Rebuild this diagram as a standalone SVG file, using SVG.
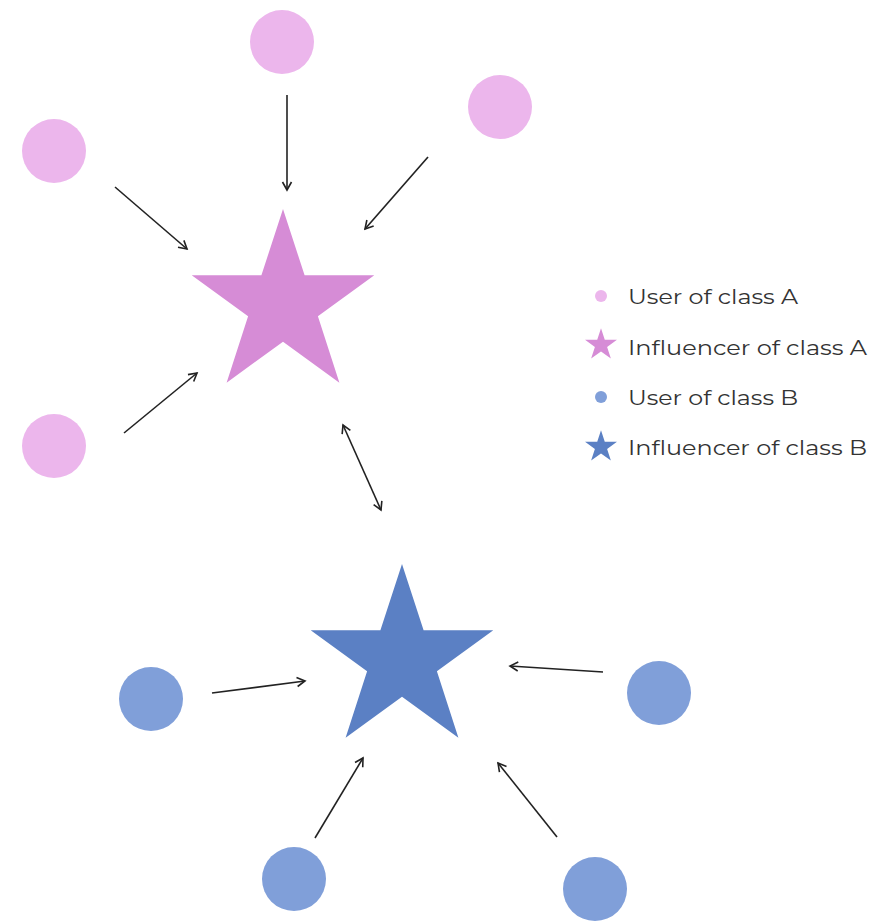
<svg xmlns="http://www.w3.org/2000/svg" xmlns:xlink="http://www.w3.org/1999/xlink" width="872" height="922" viewBox="0 0 872 922">
<style>
.ua{fill:#ecb6ec}
.ia{fill:#d68cd6}
.ub{fill:#809fd9}
.ib{fill:#5b80c4}
.c line{stroke:#222;stroke-width:1.6;fill:none}
.arr{marker-end:url(#ah)}
.lg{font-family:"Montserrat","Lato","Liberation Sans",sans-serif;font-size:20px;fill:#333}
</style>
<defs>
<marker id="ah" viewBox="0 0 12 12" refX="10" refY="6" markerWidth="12" markerHeight="12" markerUnits="userSpaceOnUse" orient="auto-start-reverse">
<polyline points="2,1.5 10,6 2,10.5" fill="none" stroke="#222" stroke-width="1.6"/>
</marker>
<path id="star" d="M0,-96 L21.6,-29.7 L91.3,-29.7 L34.9,11.3 L56.4,77.7 L0,36.7 L-56.4,77.7 L-34.9,11.3 L-91.3,-29.7 L-21.6,-29.7 Z"/>
</defs>
<rect width="872" height="922" fill="#fff"/>
<g id="userA1"><circle class="ua" cx="282" cy="42" r="32"/></g>
<g id="userA2"><circle class="ua" cx="500" cy="107" r="32"/></g>
<g id="userA3"><circle class="ua" cx="54" cy="151" r="32"/></g>
<g id="userA4"><circle class="ua" cx="54" cy="446" r="32"/></g>
<g id="influencerA"><use xlink:href="#star" class="ia" transform="translate(283,305)"/></g>
<g id="influencerB"><use xlink:href="#star" class="ib" transform="translate(402,660)"/></g>
<g id="userB1"><circle class="ub" cx="151" cy="699" r="32"/></g>
<g id="userB2"><circle class="ub" cx="659" cy="693" r="32"/></g>
<g id="userB3"><circle class="ub" cx="294" cy="879" r="32"/></g>
<g id="userB4"><circle class="ub" cx="595" cy="889" r="32"/></g>
<g id="connectors" class="c">
<line class="arr" x1="287" y1="95" x2="287" y2="190"/>
<line class="arr" x1="428" y1="157" x2="365" y2="229"/>
<line class="arr" x1="115" y1="187" x2="187" y2="249"/>
<line class="arr" x1="124" y1="433" x2="197" y2="373"/>
<line class="arr" x1="343" y1="425" x2="381" y2="510" style="marker-start:url(#ah)"/>
<line class="arr" x1="212" y1="693" x2="305" y2="681"/>
<line class="arr" x1="603" y1="672" x2="510" y2="666"/>
<line class="arr" x1="315" y1="838" x2="363" y2="758"/>
<line class="arr" x1="557" y1="837" x2="498" y2="763"/>
</g>
<g id="legend">
<circle class="ua" cx="601" cy="296" r="6"/>
<text class="lg" x="628" y="304" textLength="170" lengthAdjust="spacingAndGlyphs">User of class A</text>
<use xlink:href="#star" class="ia" transform="translate(601,345) scale(0.175)"/>
<text class="lg" x="628" y="355" textLength="239" lengthAdjust="spacingAndGlyphs">Influencer of class A</text>
<circle class="ub" cx="601" cy="397" r="6"/>
<text class="lg" x="628" y="405" textLength="170" lengthAdjust="spacingAndGlyphs">User of class B</text>
<use xlink:href="#star" class="ib" transform="translate(601,447) scale(0.175)"/>
<text class="lg" x="628" y="455" textLength="239" lengthAdjust="spacingAndGlyphs">Influencer of class B</text>
</g>
</svg>
